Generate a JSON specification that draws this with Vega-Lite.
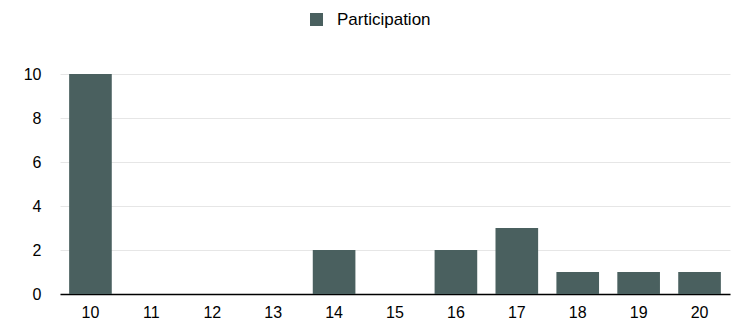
{
  "$schema": "https://vega.github.io/schema/vega-lite/v6.json",
  "width": 670,
  "height": 220,
  "autosize": {"type": "none"},
  "padding": {"left": 60, "top": 74, "right": 10, "bottom": 29},
  "background": "white",
  "config": {
    "view": {"stroke": null},
    "font": "Liberation Sans"
  },
  "data": {
    "values": [
      {"age": "10", "count": 10, "series": "Participation"},
      {"age": "11", "count": 0, "series": "Participation"},
      {"age": "12", "count": 0, "series": "Participation"},
      {"age": "13", "count": 0, "series": "Participation"},
      {"age": "14", "count": 2, "series": "Participation"},
      {"age": "15", "count": 0, "series": "Participation"},
      {"age": "16", "count": 2, "series": "Participation"},
      {"age": "17", "count": 3, "series": "Participation"},
      {"age": "18", "count": 1, "series": "Participation"},
      {"age": "19", "count": 1, "series": "Participation"},
      {"age": "20", "count": 1, "series": "Participation"}
    ]
  },
  "mark": {"type": "bar"},
  "encoding": {
    "x": {
      "field": "age",
      "type": "nominal",
      "sort": null,
      "scale": {"paddingInner": 0.3, "paddingOuter": 0.15},
      "axis": {
        "title": null,
        "labelAngle": 0,
        "labelFontSize": 16,
        "labelColor": "#000000",
        "labelPadding": 10,
        "ticks": false,
        "domainColor": "#000000",
        "domainWidth": 1.5,
        "grid": false
      }
    },
    "y": {
      "field": "count",
      "type": "quantitative",
      "scale": {"domain": [0, 10]},
      "axis": {
        "title": null,
        "values": [0, 2, 4, 6, 8, 10],
        "labelFontSize": 16,
        "labelColor": "#000000",
        "labelPadding": 19,
        "ticks": false,
        "domain": false,
        "gridColor": "#e6e6e6",
        "gridWidth": 1
      }
    },
    "color": {
      "field": "series",
      "type": "nominal",
      "scale": {"range": ["#4a605f"]},
      "legend": {
        "title": null,
        "orient": "none",
        "legendX": 248,
        "legendY": -63,
        "symbolType": "square",
        "symbolSize": 169,
        "symbolStrokeWidth": 0,
        "labelFontSize": 17,
        "labelColor": "#000000",
        "labelOffset": 12
      }
    }
  }
}
